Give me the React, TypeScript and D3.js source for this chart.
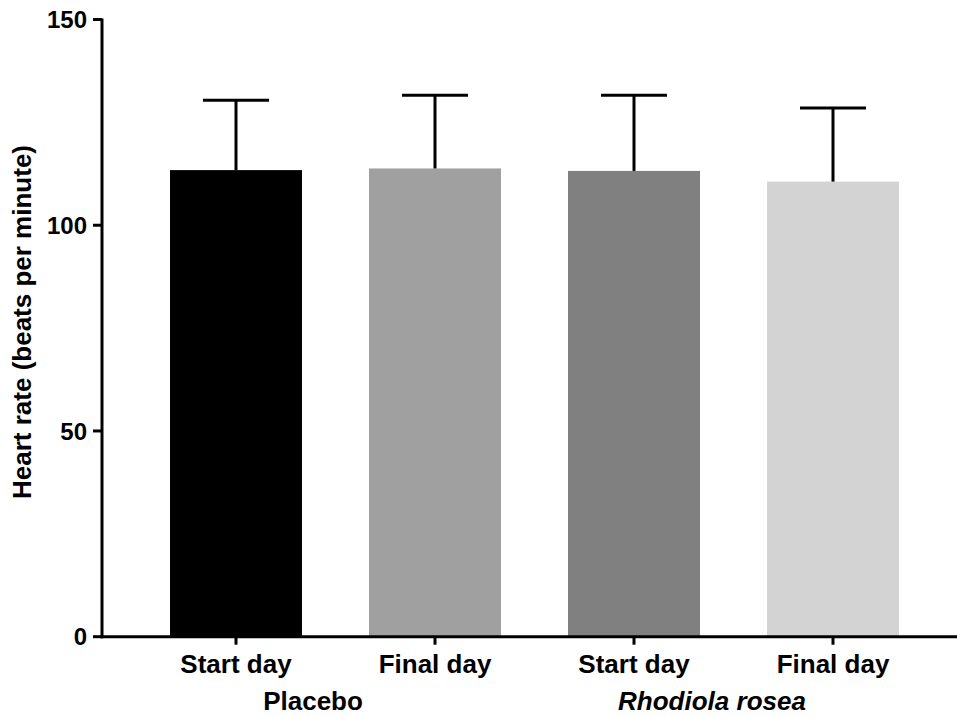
import React from "react";
import * as d3 from "d3";

const categories = ["Start day", "Final day", "Start day", "Final day"];
const means = [113.4, 113.8, 113.2, 110.6];
const upperErrors = [130.4, 131.6, 131.6, 128.5];
const barColors = ["#000000", "#a0a0a0", "#808080", "#d3d3d3"];
const groups = [
  { label: "Placebo", italic: false, center: 313 },
  { label: "Rhodiola rosea", italic: true, center: 712 },
];
const yTicks = [0, 50, 100, 150];

const W = 957;
const H = 717;
const axisX = 102;
const font = "'Liberation Sans', Arial, Helvetica, sans-serif";

export default function App() {
  const y = d3.scaleLinear().domain([0, 150]).range([636.7, 19.5]);
  const x = d3
    .scalePoint<number>()
    .domain(d3.range(categories.length))
    .range([236, 833]);
  const barW = 132;
  const capW = 66;
  const y0 = y(0);

  return (
    <svg
      width={W}
      height={H}
      style={{ position: "absolute", left: 0, top: 0, background: "#fff" }}
    >
      {/* bars */}
      {means.map((m, i) => (
        <rect
          key={"b" + i}
          x={(x(i) as number) - barW / 2}
          y={y(m)}
          width={barW}
          height={y0 - y(m)}
          fill={barColors[i]}
        />
      ))}
      {/* upper error bars */}
      {upperErrors.map((e, i) => {
        const cx = x(i) as number;
        return (
          <g key={"e" + i} stroke="#000" strokeWidth={3}>
            <line x1={cx} x2={cx} y1={y(means[i])} y2={y(e)} />
            <line x1={cx - capW / 2} x2={cx + capW / 2} y1={y(e)} y2={y(e)} />
          </g>
        );
      })}
      {/* y axis */}
      <line x1={axisX} x2={axisX} y1={y(150) - 1} y2={y0 + 1.5} stroke="#000" strokeWidth={3} />
      {yTicks.map((t) => (
        <g key={"t" + t}>
          <line x1={axisX - 9} x2={axisX} y1={y(t)} y2={y(t)} stroke="#000" strokeWidth={3} />
          <text
            x={axisX - 15}
            y={y(t)}
            dy="0.36em"
            textAnchor="end"
            fontFamily={font}
            fontWeight="bold"
            fontSize={24}
            fill="#000"
          >
            {t}
          </text>
        </g>
      ))}
      {/* x axis */}
      <line x1={axisX - 1.5} x2={W} y1={y0} y2={y0} stroke="#000" strokeWidth={3} />
      {categories.map((c, i) => (
        <g key={"c" + i}>
          <line
            x1={x(i) as number}
            x2={x(i) as number}
            y1={y0}
            y2={y0 + 8}
            stroke="#000"
            strokeWidth={3}
          />
          <text
            x={x(i) as number}
            y={673}
            textAnchor="middle"
            fontFamily={font}
            fontWeight="bold"
            fontSize={26}
            fill="#000"
          >
            {c}
          </text>
        </g>
      ))}
      {groups.map((g) => (
        <text
          key={g.label}
          x={g.center}
          y={710}
          textAnchor="middle"
          fontFamily={font}
          fontWeight="bold"
          fontStyle={g.italic ? "italic" : "normal"}
          fontSize={26}
          fill="#000"
        >
          {g.label}
        </text>
      ))}
      {/* y axis title */}
      <text
        transform={`translate(31, 322) rotate(-90)`}
        textAnchor="middle"
        fontFamily={font}
        fontWeight="bold"
        fontSize={26}
        fill="#000"
      >
        Heart rate (beats per minute)
      </text>
    </svg>
  );
}
